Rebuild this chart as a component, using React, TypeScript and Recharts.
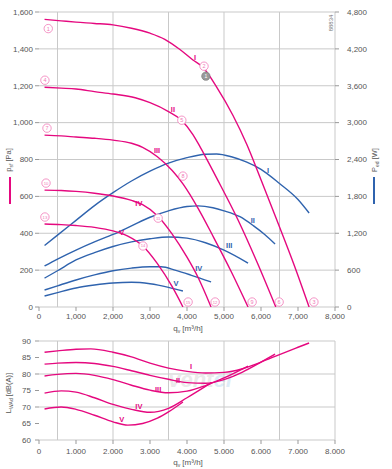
import React from 'react';
import { ComposedChart, Line, XAxis, YAxis, CartesianGrid, ReferenceDot } from 'recharts';

const PINK = '#e5087f';
const PINK_LIGHT = '#f17ab7';
const BLUE = '#2f63ae';
const GRID = '#c9c9c9';
const TICK = '#555';
const FONT = '"Liberation Sans", Arial, sans-serif';

// Flow axis (m³/h)
const flowTicks = [0, 1000, 2000, 3000, 4000, 5000, 6000, 7000, 8000];
const flowGrid = [0, 500, 1000, 1500, 2000, 2500, 3000, 3500, 4000, 4500, 5000, 5500, 6000, 6500, 7000, 7500, 8000];

// Static pressure axis (Pa) and power axis (W)
const pressureTicks = [0, 200, 400, 600, 800, 1000, 1200, 1400, 1600];
const pressureGrid = [0, 100, 200, 300, 400, 500, 600, 700, 800, 900, 1000, 1100, 1200, 1300, 1400, 1500, 1600];
const powerTicks = [0, 600, 1200, 1800, 2400, 3000, 3600, 4200, 4800];

// Sound power axis (dB(A))
const noiseTicks = [60, 65, 70, 75, 80, 85, 90];

// Fan curves: [flow, static pressure]
const pressureI: [number, number][] = [[150, 1560], [600, 1552], [1000, 1545], [1500, 1538], [2000, 1530], [2500, 1512], [3000, 1485], [3400, 1452], [3800, 1398], [4160, 1340], [4430, 1300], [4810, 1190], [5240, 1040], [5620, 880], [6000, 690], [6430, 470], [6900, 225], [7300, 0]];
const pressureII: [number, number][] = [[150, 1192], [600, 1187], [1000, 1182], [1500, 1168], [2000, 1155], [2600, 1135], [3000, 1108], [3500, 1060], [3860, 1012], [4160, 935], [4350, 870], [4800, 700], [5380, 472], [5900, 240], [6400, 0]];
const pressureIII: [number, number][] = [[150, 932], [600, 928], [1000, 922], [1500, 915], [2000, 905], [2500, 888], [2800, 866], [3200, 815], [3600, 740], [3900, 665], [4300, 535], [4700, 385], [5200, 190], [5650, 0]];
const pressureIV: [number, number][] = [[150, 634], [600, 632], [1000, 627], [1500, 617], [2000, 602], [2500, 578], [2800, 555], [3200, 495], [3600, 395], [4000, 270], [4300, 160], [4650, 0]];
const pressureV: [number, number][] = [[150, 450], [600, 447], [1000, 442], [1500, 432], [2000, 413], [2400, 385], [2800, 332], [3200, 235], [3600, 110], [3890, 0]];

// Power input curves: [flow, W]
const powerI: [number, number][] = [[150, 1000], [500, 1170], [1000, 1410], [1500, 1650], [2000, 1860], [2500, 2050], [3000, 2210], [3500, 2340], [4000, 2430], [4500, 2485], [4800, 2490], [5200, 2445], [5600, 2360], [6000, 2240], [6500, 2010], [7000, 1750], [7300, 1530]];
const powerII: [number, number][] = [[150, 667], [500, 780], [1000, 927], [1500, 1060], [2000, 1180], [2500, 1320], [3000, 1460], [3500, 1565], [4000, 1635], [4300, 1645], [4700, 1615], [5000, 1565], [5430, 1469], [5800, 1320], [6100, 1180], [6380, 1025]];
const powerIII: [number, number][] = [[150, 470], [500, 590], [1000, 765], [1500, 885], [2000, 985], [2500, 1060], [3000, 1110], [3500, 1140], [4000, 1120], [4500, 1045], [5000, 925], [5650, 715]];
const powerIV: [number, number][] = [[150, 277], [500, 345], [1000, 440], [1500, 522], [2000, 590], [2500, 633], [3000, 655], [3300, 655], [3700, 595], [4100, 520], [4650, 407]];
const powerV: [number, number][] = [[150, 179], [500, 235], [1000, 310], [1500, 357], [2000, 390], [2500, 402], [3000, 378], [3500, 320], [3890, 260]];

// Sound power curves: [flow, dB(A)]
const noiseI: [number, number][] = [[150, 86.6], [500, 87], [1000, 87.5], [1400, 87.6], [2000, 86.6], [2500, 85.2], [3000, 83.3], [3500, 81.8], [4000, 80.8], [4500, 80.3], [5000, 80.5], [5500, 81.6], [6000, 83.6], [6500, 85.9], [7000, 88.1], [7300, 89.4]];
const noiseII: [number, number][] = [[150, 83], [500, 83.3], [1000, 83.5], [1500, 83.2], [2000, 82.3], [2500, 81], [3000, 79.6], [3500, 78.4], [4000, 77.4], [4500, 77.2], [5000, 78.3], [5500, 80.6], [6000, 83.6], [6380, 86]];
const noiseIII: [number, number][] = [[150, 79.4], [500, 79.9], [1000, 80.2], [1500, 79.6], [2000, 78.3], [2500, 76.6], [3000, 75.1], [3500, 74.3], [4000, 74.8], [4500, 76.5], [5000, 78.8], [5650, 82.4]];
const noiseIV: [number, number][] = [[150, 74.2], [600, 74.9], [1000, 74.5], [1500, 72.8], [2000, 70.8], [2500, 69.3], [3000, 68.4], [3500, 69.6], [4000, 72.8], [4650, 77.3]];
const noiseV: [number, number][] = [[150, 69.4], [600, 70], [1000, 69.3], [1500, 67.5], [2000, 65.5], [2400, 64.5], [2800, 65], [3200, 66.6], [3500, 68.5], [3890, 71.5]];

// Speed step names and their label anchors
const stepNames = ['I', 'II', 'III', 'IV', 'V'];
const pressureTagAt: [number, number][] = [[4220, 1355], [3620, 1073], [3190, 851], [2700, 564], [2240, 406]];
const powerTagAt: [number, number][] = [[6190, 2229], [5780, 1415], [5140, 1009], [4320, 634], [3700, 390]];
const noiseTagAt: [number, number][] = [[4110, 82.2], [3760, 78.2], [3220, 75.4], [2700, 70.3], [2240, 66.4]];

// Operating points: [number, flow, pressure]
const operatingPoints: [string, number, number][] = [
  ['1', 250, 1510], ['2', 4460, 1306], ['3', 7430, 27],
  ['4', 160, 1230], ['5', 3860, 1013], ['6', 6490, 27],
  ['7', 216, 970], ['8', 3890, 710], ['9', 5760, 27],
  ['10', 190, 672], ['11', 3220, 482], ['12', 4760, 27],
  ['13', 160, 488], ['14', 2810, 331], ['15', 4030, 27],
];
const referencePoint: [number, number] = [4510, 1252];

const toRows = (pts: [number, number][]) => pts.map(([x, y]) => ({ x, y }));
const thousands = (v: number) => v.toLocaleString('en-US');
const thousandsDot = (v: number) => v.toLocaleString('en-US').replace(',', '.');

const tickStyle = { fontSize: 8, fill: TICK, fontFamily: FONT };

const pressureSeries = [pressureI, pressureII, pressureIII, pressureIV, pressureV];
const powerSeries = [powerI, powerII, powerIII, powerIV, powerV];
const noiseSeries = [noiseI, noiseII, noiseIII, noiseIV, noiseV];

const TextTag = (text: string, color: string) => (props: any) => (
  <text x={props.cx} y={props.cy} dy="0.35em" textAnchor="middle" fontSize={7.5} fontWeight={700} fill={color} fontFamily={FONT}>
    {text}
  </text>
);

const CircleTag = (num: string) => (props: any) => (
  <g>
    <circle cx={props.cx} cy={props.cy} r={4.2} fill="#fff" stroke={PINK_LIGHT} strokeWidth={0.8} />
    <text x={props.cx} y={props.cy} dy="0.36em" textAnchor="middle" fontSize={num.length > 1 ? 4.2 : 5.5} fill={PINK_LIGHT} fontFamily={FONT}>
      {num}
    </text>
  </g>
);

const GrayTag = (props: any) => (
  <g>
    <circle cx={props.cx} cy={props.cy} r={4.2} fill="#9a9a9a" stroke="#777" strokeWidth={0.6} />
    <text x={props.cx} y={props.cy} dy="0.36em" textAnchor="middle" fontSize={5} fill="#fff" fontFamily={FONT}>
      1
    </text>
  </g>
);

function PerformanceChart() {
  return (
    <ComposedChart width={392} height={340} margin={{ top: 12, right: 0, bottom: 0, left: 0 }}>
      <CartesianGrid yAxisId="p" stroke={GRID} strokeWidth={1} horizontalValues={pressureGrid} verticalValues={flowGrid} />
      <XAxis
        dataKey="x"
        type="number"
        domain={[0, 8000]}
        ticks={flowTicks}
        tickFormatter={thousands}
        height={33}
        tick={tickStyle}
        tickSize={4}
        tickMargin={2}
        axisLine={false}
        tickLine={{ stroke: '#999' }}
        allowDataOverflow
      />
      <YAxis
        yAxisId="p"
        type="number"
        domain={[0, 1600]}
        ticks={pressureTicks}
        tickFormatter={thousands}
        width={39}
        tick={tickStyle}
        tickSize={4}
        tickMargin={2}
        axisLine={false}
        tickLine={{ stroke: '#999' }}
        allowDataOverflow
      />
      <YAxis
        yAxisId="w"
        orientation="right"
        type="number"
        domain={[0, 4800]}
        ticks={powerTicks}
        tickFormatter={thousands}
        width={57}
        tick={{ ...tickStyle, textAnchor: 'start' }}
        tickSize={4}
        tickMargin={8}
        axisLine={false}
        tickLine={{ stroke: '#999' }}
        allowDataOverflow
      />
      {powerSeries.map((s, i) => (
        <Line key={'w' + i} yAxisId="w" data={toRows(s)} dataKey="y" type="monotone" stroke={BLUE} strokeWidth={1.4} dot={false} isAnimationActive={false} />
      ))}
      {pressureSeries.map((s, i) => (
        <Line key={'p' + i} yAxisId="p" data={toRows(s)} dataKey="y" type="monotone" stroke={PINK} strokeWidth={1.4} dot={false} isAnimationActive={false} />
      ))}
      {pressureTagAt.map(([q, p], i) => (
        <ReferenceDot key={'pt' + i} yAxisId="p" x={q} y={p} ifOverflow="visible" shape={TextTag(stepNames[i], PINK)} />
      ))}
      {powerTagAt.map(([q, w], i) => (
        <ReferenceDot key={'wt' + i} yAxisId="w" x={q} y={w} ifOverflow="visible" shape={TextTag(stepNames[i], BLUE)} />
      ))}
      {operatingPoints.map(([n, q, p]) => (
        <ReferenceDot key={'op' + n} yAxisId="p" x={q} y={p} ifOverflow="visible" shape={CircleTag(n)} />
      ))}
      <ReferenceDot yAxisId="p" x={referencePoint[0]} y={referencePoint[1]} ifOverflow="visible" shape={GrayTag} />
    </ComposedChart>
  );
}

function NoiseChart() {
  return (
    <ComposedChart width={392} height={139} margin={{ top: 11, right: 57, bottom: 0, left: 0 }}>
      <CartesianGrid stroke={GRID} strokeWidth={1} horizontalValues={noiseTicks} verticalValues={flowGrid} />
      <XAxis
        dataKey="x"
        type="number"
        domain={[0, 8000]}
        ticks={flowTicks}
        tickFormatter={thousandsDot}
        height={29}
        tick={tickStyle}
        tickSize={4}
        tickMargin={4}
        axisLine={false}
        tickLine={{ stroke: '#999' }}
        allowDataOverflow
      />
      <YAxis
        type="number"
        domain={[60, 90]}
        ticks={noiseTicks}
        width={39}
        tick={tickStyle}
        tickSize={4}
        tickMargin={4}
        axisLine={false}
        tickLine={{ stroke: '#999' }}
        allowDataOverflow
      />
      {noiseSeries.map((s, i) => (
        <Line key={'n' + i} data={toRows(s)} dataKey="y" type="monotone" stroke={PINK} strokeWidth={1.4} dot={false} isAnimationActive={false} />
      ))}
      {noiseTagAt.map(([q, d], i) => (
        <ReferenceDot key={'nt' + i} x={q} y={d} ifOverflow="visible" shape={TextTag(stepNames[i], PINK)} />
      ))}
    </ComposedChart>
  );
}

// Faint distributor mark sitting behind the sound chart
function Watermark() {
  return (
    <svg width={392} height={469} style={{ position: 'absolute', left: 0, top: 0, pointerEvents: 'none' }}>
      <text x={200} y={387} textAnchor="middle" fontSize={22} fontWeight={700} fontStyle="italic" fontFamily={FONT} opacity={0.55}>
        <tspan fill="#d9d9d9">vent</tspan>
        <tspan fill="#c3def2">el</tspan>
      </text>
    </svg>
  );
}

function Titles() {
  const t = { fontFamily: FONT, fill: '#555' };
  return (
    <svg width={392} height={469} style={{ position: 'absolute', left: 0, top: 0, pointerEvents: 'none' }}>
      <text transform="translate(11,160) rotate(-90)" textAnchor="middle" fontSize={7.5} {...t}>
        p<tspan fontSize={5} dy={2}>sf</tspan>
        <tspan dy={-2}> [Pa]</tspan>
      </text>
      <rect x={9} y={177} width={2} height={27} fill={PINK} />
      <text transform="translate(377,160) rotate(-90)" textAnchor="middle" fontSize={7.5} {...t}>
        P<tspan fontSize={5} dy={2}>ed</tspan>
        <tspan dy={-2}> [W]</tspan>
      </text>
      <rect x={373} y={177} width={2} height={27} fill={BLUE} />
      <text transform="translate(11,393) rotate(-90)" textAnchor="middle" fontSize={7.5} {...t}>
        L<tspan fontSize={5} dy={2}>WAd</tspan>
        <tspan dy={-2}> [dB(A)]</tspan>
      </text>
      <text x={188} y={331} textAnchor="middle" fontSize={8} {...t}>
        q<tspan fontSize={5} dy={2}>v</tspan>
        <tspan dy={-2}> [m³/h]</tspan>
      </text>
      <text x={188} y={465} textAnchor="middle" fontSize={8} {...t}>
        q<tspan fontSize={5} dy={2}>v</tspan>
        <tspan dy={-2}> [m³/h]</tspan>
      </text>
      <text transform="translate(333,23) rotate(-90)" textAnchor="middle" fontSize={6} fontFamily={FONT} fill="#777">
        88834
      </text>
    </svg>
  );
}

export default function App() {
  return (
    <div style={{ position: 'absolute', left: 0, top: 0, width: 392, height: 469, background: '#fff', fontFamily: FONT }}>
      <Watermark />
      <div style={{ position: 'absolute', left: 0, top: 0 }}>
        <PerformanceChart />
      </div>
      <div style={{ position: 'absolute', left: 0, top: 330 }}>
        <NoiseChart />
      </div>
      <Titles />
    </div>
  );
}
